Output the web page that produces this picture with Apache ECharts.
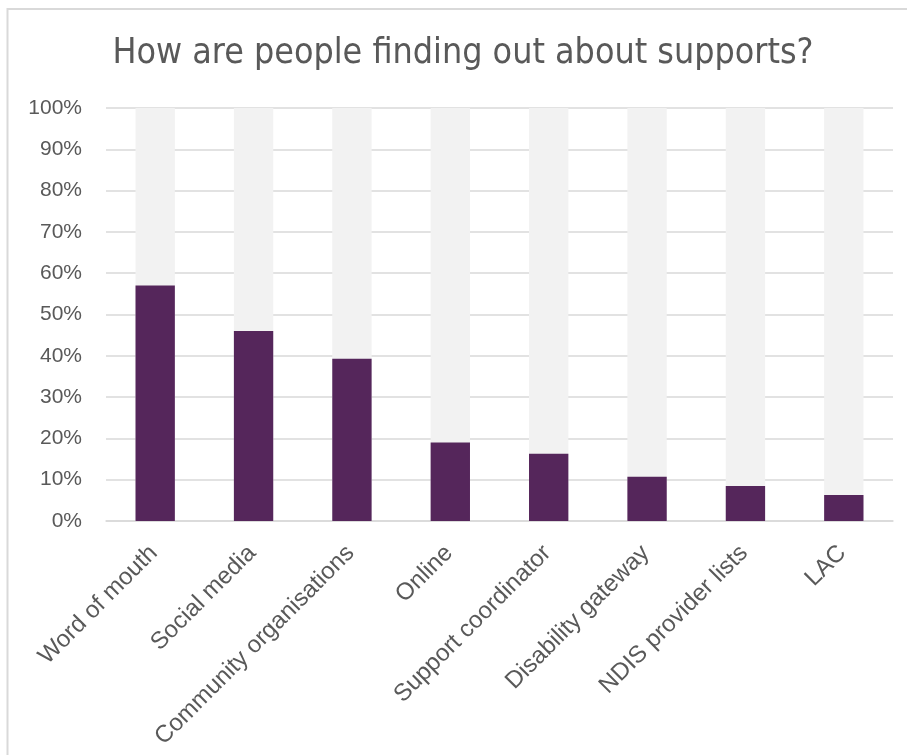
<!DOCTYPE html>
<html>
<head>
<meta charset="utf-8">
<script src="https://cdn.jsdelivr.net/npm/echarts@6/dist/echarts.min.js"></script>
<style>
  html, body { margin: 0; padding: 0; background: #ffffff; }
  #chart { width: 907px; height: 755px; }
</style>
</head>
<body>
<div id="chart"></div>
<script>
// Survey: where people hear about supports (share of respondents, %)
const categories = [
  'Word of mouth',
  'Social media',
  'Community organisations',
  'Online',
  'Support coordinator',
  'Disability gateway',
  'NDIS provider lists',
  'LAC'
];
const shares = [57, 46, 39.3, 19, 16.3, 10.7, 8.5, 6.3];
const titleText = 'How are people finding out about supports?';

const textColor = '#595959';
const gridColor = '#d9d9d9';
const baseFont = '"Liberation Sans", Arial, sans-serif';

const chart = echarts.init(document.getElementById('chart'), null, { renderer: 'canvas' });

chart.setOption({
  animation: false,
  backgroundColor: '#ffffff',
  title: {
    text: titleText,
    left: 458,
    top: 31,
    textAlign: 'center',
    textStyle: {
      fontFamily: '"Liberation Sans Narrow", "DejaVu Sans Condensed", sans-serif',
      fontSize: 35.5,
      fontWeight: 'normal',
      color: textColor
    }
  },
  graphic: [{
    type: 'rect',
    shape: { x: 7.5, y: 9, width: 930, height: 780 },
    style: { fill: 'none', stroke: gridColor, lineWidth: 2 },
    silent: true,
    z: -1
  }],
  grid: { left: 106, right: 14, top: 108, bottom: 234, containLabel: false },
  xAxis: {
    type: 'category',
    data: categories,
    axisLine: { show: true, lineStyle: { color: gridColor, width: 1.5 } },
    axisTick: { show: false },
    axisLabel: {
      rotate: 45,
      interval: 0,
      margin: 27,
      padding: [0, 2, 0, 0],
      color: textColor,
      fontFamily: baseFont,
      fontSize: 24
    }
  },
  yAxis: {
    type: 'value',
    min: 0,
    max: 100,
    interval: 10,
    axisLine: { show: false },
    axisTick: { show: false },
    splitLine: { lineStyle: { color: gridColor, width: 1.5 } },
    axisLabel: {
      margin: 24,
      color: textColor,
      fontFamily: baseFont,
      fontSize: 21,
      formatter: v => v + '%'
    }
  },
  series: [{
    type: 'bar',
    data: shares,
    barWidth: '40%',
    showBackground: true,
    backgroundStyle: { color: '#f2f2f2' },
    itemStyle: { color: '#55265b' }
  }]
});
</script>
</body>
</html>
